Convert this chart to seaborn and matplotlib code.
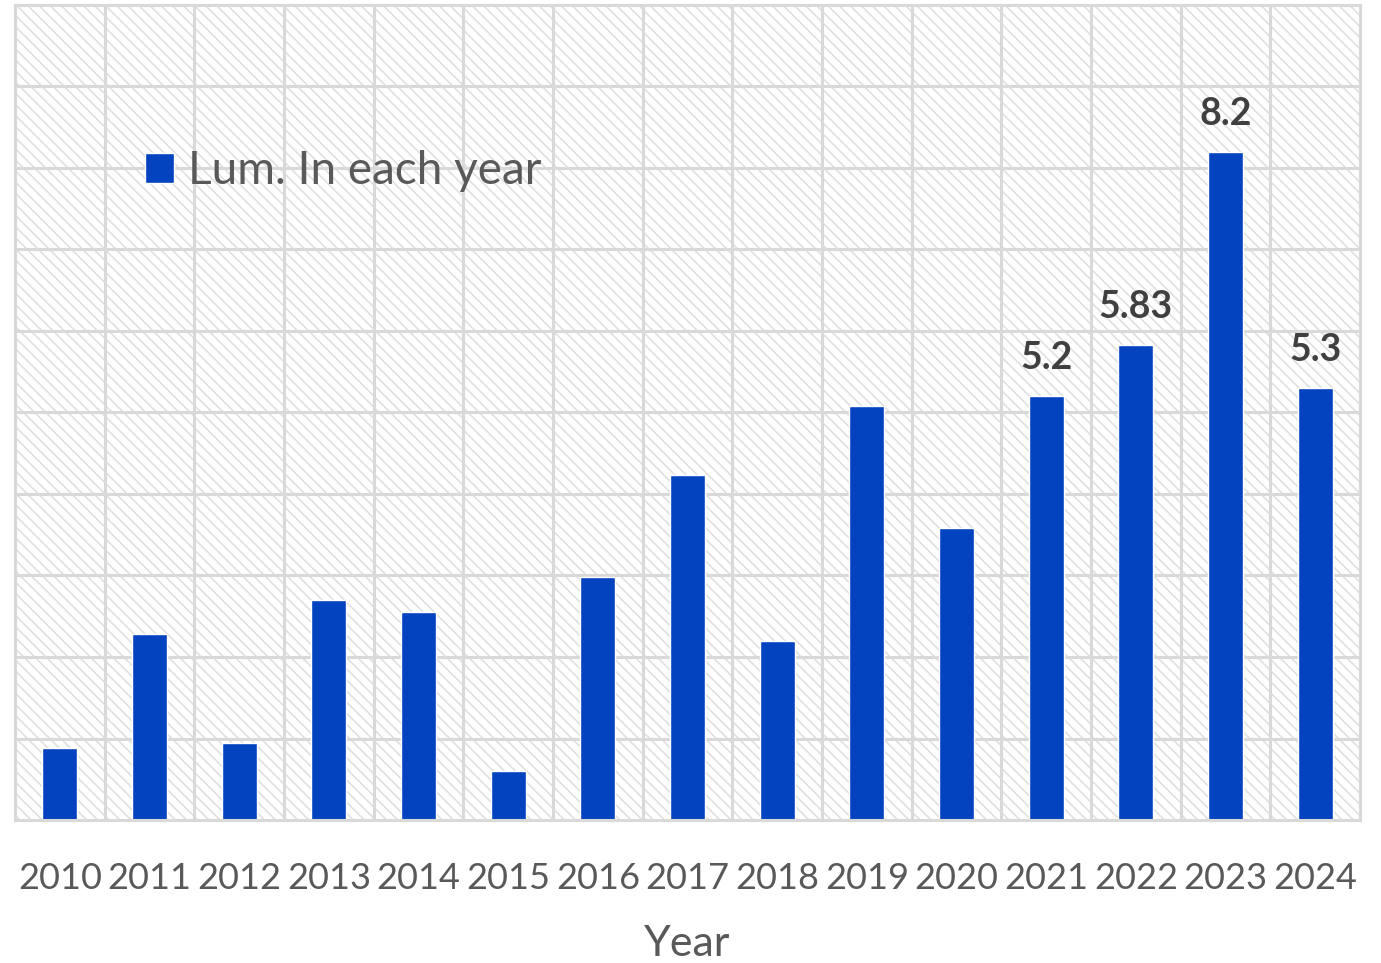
import numpy as np
import pandas as pd
import matplotlib.pyplot as plt
import seaborn as sns
from matplotlib.patches import Rectangle

years = ['2010', '2011', '2012', '2013', '2014', '2015', '2016', '2017',
         '2018', '2019', '2020', '2021', '2022', '2023', '2024']
lum = [0.88, 2.28, 0.94, 2.70, 2.55, 0.60, 2.98, 4.23,
       2.20, 5.08, 3.58, 5.2, 5.83, 8.2, 5.3]
shown_labels = ['', '', '', '', '', '', '', '',
                '', '', '', '5.2', '5.83', '8.2', '5.3']

df = pd.DataFrame({'Year': years, 'Lum': lum})

sns.set_style('white')
plt.rcParams['font.family'] = ['Lato', 'DejaVu Sans']
plt.rcParams['hatch.linewidth'] = 1.2

grid_col = '#d9d9d9'
text_col = '#595959'
bar_col = '#0343bf'

fig = plt.figure(figsize=(13.81, 9.63), dpi=100)
ax = fig.add_axes([15 / 1381, 1 - 820 / 963, 1345 / 1381, 815 / 963])

# hatched background
ax.add_patch(Rectangle((0, 0), 1, 1, transform=ax.transAxes, facecolor='white',
                       edgecolor='#e0e0e0', hatch='\\\\\\', lw=0, zorder=0))

sns.barplot(data=df, x='Year', y='Lum', color=bar_col, width=0.39,
            saturation=1, label='Lum. In each year', ax=ax, zorder=2)

ax.set_xlim(-0.5, len(years) - 0.5)
ax.set_ylim(0, 10)
ax.set_yticks(np.arange(0, 11, 1))
ax.set_xticks(np.arange(-0.5, len(years), 1), minor=True)
ax.grid(True, axis='y', which='major', color=grid_col, lw=2.2, zorder=1)
ax.grid(True, axis='x', which='minor', color=grid_col, lw=2.2, zorder=1)
ax.grid(False, axis='x', which='major')
ax.set_axisbelow(True)
ax.tick_params(axis='y', left=False, labelleft=False)
ax.tick_params(axis='x', which='both', bottom=False, labelsize=26,
               labelcolor=text_col, pad=27)
for s in ax.spines.values():
    s.set_color(grid_col)
    s.set_linewidth(2.2)

ax.set_ylabel('')
ax.set_xlabel('Year', fontsize=31, color=text_col, labelpad=21)

ax.bar_label(ax.containers[0], labels=shown_labels, padding=15,
             fontsize=27, fontweight='bold', color='#404040')

ax.legend(loc='center left', bbox_to_anchor=(0.097, 0.796), frameon=False,
          fontsize=33, handlelength=0.63, handleheight=0.63, handletextpad=0.3,
          borderpad=0, borderaxespad=0, labelcolor=text_col)

plt.savefig('out.png', dpi=100)
